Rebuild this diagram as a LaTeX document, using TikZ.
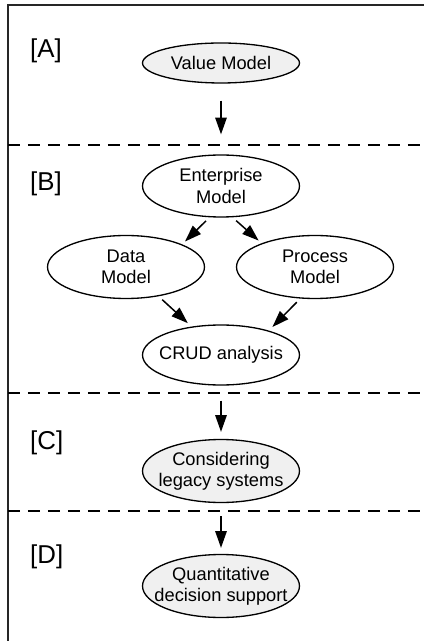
\documentclass[tikz,border=0pt]{standalone}
\usepackage{fontspec}
\setmainfont{Liberation Sans}
\usetikzlibrary{arrows.meta,shapes.geometric}

\begin{document}
\begin{tikzpicture}[x=0.02cm,y=-0.02cm,>={Triangle[length=9.5pt,width=6.5pt]},
  model/.style={draw,ellipse,line width=0.75pt,minimum width=3.14cm,minimum height=1.26cm,inner sep=0pt},
  legacy/.style={model,fill=black!6},
  every label/.style={align=center,font=\fontsize{10.4}{12}\selectfont},
  part/.style={font=\fontsize{14.7}{17}\selectfont,anchor=west},
  border/.style={line width=1.1pt,dash pattern=on 0.24cm off 0.16cm}]

\useasboundingbox (0,0) rectangle (424,641);

% frame and the four parts
\draw[line width=1.1pt,black!85] (8,641) -- (8,5) -- (424,5);
\draw[border] (8,145) -- (424,145);
\draw[border] (8,393) -- (424,393);
\draw[border] (8,511) -- (424,511);

\node[part] (pa) at (24,51)  {[A]};
\node[part] (pb) at (24,184) {[B]};
\node[part] (pc) at (24,443) {[C]};
\node[part] (pd) at (24,557) {[D]};

\node[legacy,minimum height=0.8cm,label={center:Value Model}]  (vm)   at (221,63)  {};
\node[model,minimum height=1.24cm,label={center:Enterprise\\Model}] (em) at (221,186) {};
\node[model,label={center:Data\\Model}]                         (dm)   at (126,267) {};
\node[model,label={center:Process\\Model}]                      (pm)   at (315,267) {};
\node[model,minimum height=1.2cm,label={center:CRUD analysis}]  (crud) at (221,355) {};
\node[legacy,label={center:Considering\\legacy systems}]        (cls)  at (221,471) {};
\node[legacy,label={center:Quantitative\\decision support}]     (qds)  at (221,586) {};

\path[->,line width=0.85pt]
  (vm)     edge[shorten <=0.34cm,shorten >=0.4cm]  (em)
  (em.250) edge[shorten <=0.1cm,shorten >=0.08cm]  (dm.22)
  (em.290) edge[shorten <=0.1cm,shorten >=0.08cm]  (pm.156)
  (dm.318) edge[shorten <=0.1cm,shorten >=0.1cm]   (crud.136)
  (pm.245) edge[shorten <=0.1cm,shorten >=0.1cm]   (crud.27)
  (crud)   edge[shorten <=0.3cm,shorten >=0.14cm]  (cls)
  (cls)    edge[shorten <=0.26cm,shorten >=0.12cm] (qds);
\end{tikzpicture}
\end{document}
